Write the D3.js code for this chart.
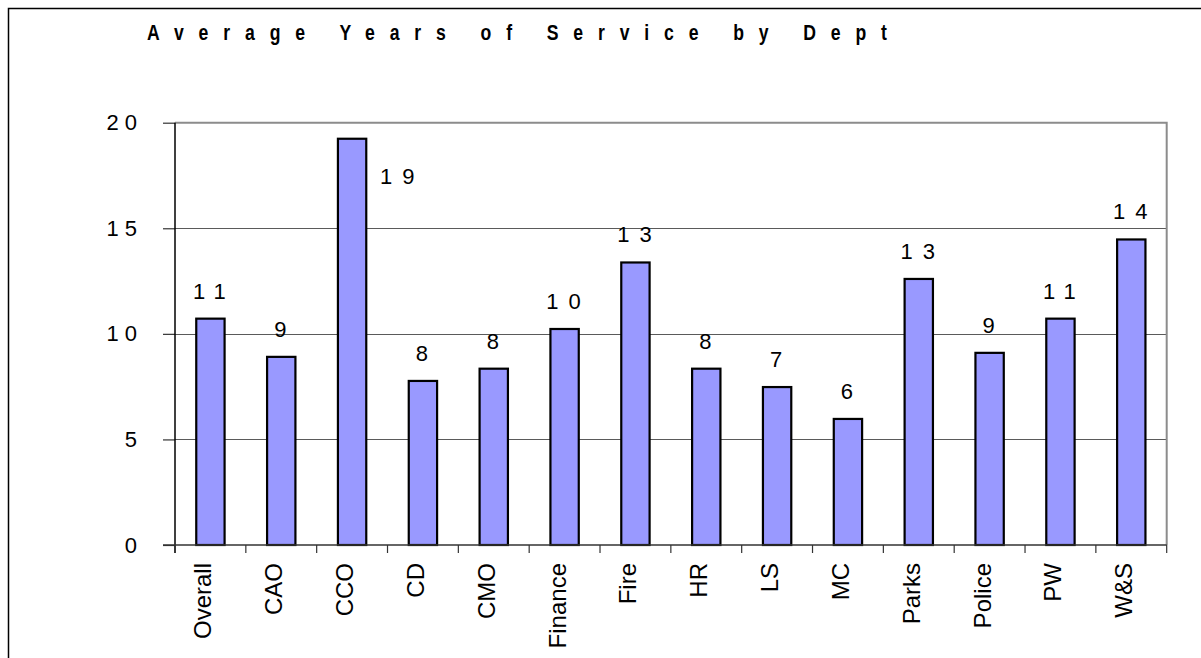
<!DOCTYPE html>
<html>
<head>
<meta charset="utf-8">
<script src="https://cdn.jsdelivr.net/npm/d3@7"></script>
<style>
  html, body { margin: 0; padding: 0; background: #fff; }
  svg { display: block; font-family: "Liberation Sans", Arial, sans-serif; }
  .chart-title { font-family: "Liberation Sans Narrow", "Liberation Sans", Arial, sans-serif; font-weight: bold; font-size: 22px; }
  .tick-label { font-size: 22px; letter-spacing: 6px; }
  .value-label { font-size: 22px; letter-spacing: 10px; }
  .cat-label { font-size: 24px; }
</style>
</head>
<body>
<svg id="chart" width="1201" height="658"></svg>
<script>
// Departments and their average years of service
const departments = ["Overall", "CAO", "CCO", "CD", "CMO", "Finance", "Fire", "HR", "LS", "MC", "Parks", "Police", "PW", "W&S"];
const avgYears = [10.72, 8.91, 19.24, 7.77, 8.35, 10.23, 13.38, 8.35, 7.48, 5.97, 12.6, 9.1, 10.72, 14.47];
const yTicks = [0, 5, 10, 15, 20];
const chartTitle = "Average Years of Service by Dept";

const svg = d3.select("#chart");
const W = 1201, H = 658;
const plot = { left: 175, right: 1166.7, top: 122.7, bottom: 545 };

// Outer chart frame (runs off the right and bottom of the page)
svg.append("rect")
  .attr("x", 8.5).attr("y", 8.5)
  .attr("width", W + 50).attr("height", H + 50)
  .attr("fill", "none").attr("stroke", "#000").attr("stroke-width", 1.5);

const x = d3.scaleBand()
  .domain(departments)
  .range([plot.left, plot.right])
  .paddingInner(0.6)
  .paddingOuter(0.3);

const y = d3.scaleLinear()
  .domain([0, 20])
  .range([plot.bottom, plot.top]);

// Title: bold, condensed, letters spread across a fixed width
const titleSquash = 0.8;
svg.append("text")
  .attr("class", "chart-title")
  .attr("transform", `translate(147,40) scale(${titleSquash},1)`)
  .attr("textLength", 740 / titleSquash)
  .attr("lengthAdjust", "spacing")
  .attr("fill", "#000")
  .text(chartTitle);

// Horizontal gridlines
svg.append("g")
  .selectAll("line")
  .data(yTicks.filter(t => t > 0 && t < 20))
  .join("line")
  .attr("x1", plot.left).attr("x2", plot.right)
  .attr("y1", d => Math.round(y(d)) + 0.5).attr("y2", d => Math.round(y(d)) + 0.5)
  .attr("stroke", "#5a5a5a").attr("stroke-width", 1);

// Plot area border on the top and right
svg.append("path")
  .attr("d", `M${plot.left},${y(20)}H${plot.right}V${plot.bottom}`)
  .attr("fill", "none").attr("stroke", "#8c8c8c").attr("stroke-width", 2);

// Y axis
const yAxis = d3.axisLeft(y).tickValues(yTicks).tickSize(12).tickPadding(26).tickFormat(d3.format("d"));
const gy = svg.append("g")
  .attr("transform", `translate(${plot.left},0)`)
  .call(yAxis)
  .attr("font-size", null)
  .attr("font-family", null);
gy.select(".domain").remove();
gy.selectAll(".tick line").attr("stroke", "#333").attr("stroke-width", 1.2);
gy.selectAll(".tick text")
  .attr("class", "tick-label")
  .attr("fill", "#000")
  .attr("dx", "6px");
svg.append("line")
  .attr("x1", plot.left).attr("x2", plot.left)
  .attr("y1", plot.top).attr("y2", plot.bottom + 8)
  .attr("stroke", "#000").attr("stroke-width", 1.5);

// Bars
svg.append("g")
  .selectAll("rect")
  .data(departments)
  .join("rect")
  .attr("x", d => x(d))
  .attr("y", (d, i) => y(avgYears[i]))
  .attr("width", x.bandwidth())
  .attr("height", (d, i) => y(0) - y(avgYears[i]))
  .attr("fill", "#9999ff")
  .attr("stroke", "#000")
  .attr("stroke-width", 2.2);

// X axis line and tick marks at category boundaries
svg.append("line")
  .attr("x1", plot.left - 12).attr("x2", plot.right)
  .attr("y1", plot.bottom).attr("y2", plot.bottom)
  .attr("stroke", "#333").attr("stroke-width", 1.5);
const step = x.step();
const boundaries = d3.range(departments.length + 1).map(i => plot.left + i * step);
svg.append("g")
  .selectAll("line")
  .data(boundaries)
  .join("line")
  .attr("x1", d => d).attr("x2", d => d)
  .attr("y1", plot.bottom).attr("y2", plot.bottom + 8)
  .attr("stroke", "#333").attr("stroke-width", 1.2);

// Category labels, rotated
svg.append("g")
  .selectAll("text")
  .data(departments)
  .join("text")
  .attr("class", "cat-label")
  .attr("transform", d => `translate(${x(d) + x.bandwidth() / 2 + 1},${plot.bottom + 18}) rotate(-90)`)
  .attr("text-anchor", "end")
  .attr("fill", "#000")
  .text(d => d);

// Value labels
const fmt = d3.format(".0f");
svg.append("g")
  .selectAll("text")
  .data(departments)
  .join("text")
  .attr("class", "value-label")
  .each(function (d, i) {
    const v = avgYears[i];
    const cx = x(d) + x.bandwidth() / 2;
    const top = y(v);
    const t = d3.select(this);
    if (top - 38 < plot.top) {
      // no room above the bar: set beside it
      t.attr("x", x(d) + x.bandwidth() + 36).attr("y", top + 45);
    } else {
      t.attr("x", cx + 4).attr("y", top - 20);
    }
  })
  .attr("text-anchor", "middle")
  .attr("fill", "#000")
  .text((d, i) => fmt(avgYears[i]));
</script>
</body>
</html>
